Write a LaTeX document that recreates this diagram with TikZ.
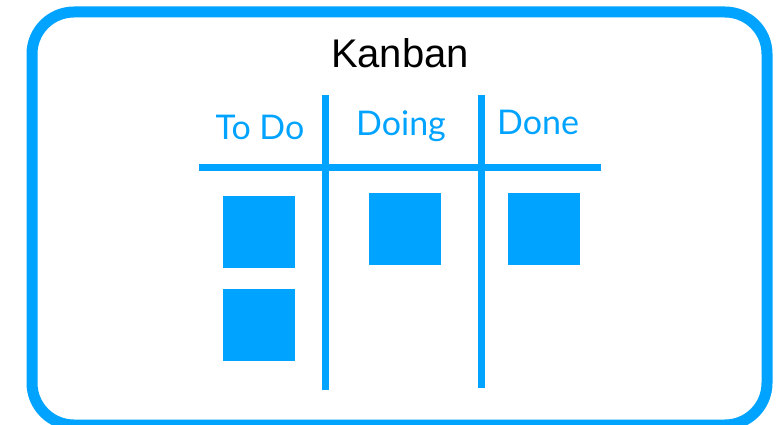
\documentclass[tikz,border=0pt]{standalone}
\usepackage{fontspec}
\setmainfont{Liberation Sans}
\newfontfamily\labelfont{Lato}
\definecolor{kblue}{RGB}{0,163,255}
\begin{document}
\begin{tikzpicture}[x=1pt,y=-1pt,
  card/.style={fill=kblue,draw=none,minimum width=72pt,minimum height=72pt,inner sep=0pt},
  collabel/.style={text=kblue,anchor=base,inner sep=0pt,font=\labelfont\fontsize{34}{36}\selectfont},
  boardline/.style={draw=kblue,line width=7pt}]
\useasboundingbox (0,0) rectangle (780,425);
\draw[kblue,line width=11pt,rounded corners=42pt] (32,12) rectangle (767,425);
\node[anchor=base,inner sep=0pt,font=\fontsize{40}{44}\selectfont] (title) at (400,68) {Kanban};
\node[collabel] (todo) at (260,140) {To Do};
\node[collabel] (doing) at (401,136) {Doing};
\node[collabel] (done) at (538,135) {Done};
\coordinate (hl) at (199,168);
\coordinate (hr) at (601,168);
\coordinate (v1t) at (325,95);
\coordinate (v1b) at (325,390);
\coordinate (v2t) at (481,95);
\coordinate (v2b) at (481,388);
\draw[boardline] (hl) -- (hr);
\draw[boardline] (v1t) -- (v1b);
\draw[boardline] (v2t) -- (v2b);
\node[card] (c1) at (258.5,232) {};
\node[card] (c2) at (258.5,324.5) {};
\node[card] (c3) at (405,229) {};
\node[card] (c4) at (544,229) {};
\end{tikzpicture}
\end{document}
